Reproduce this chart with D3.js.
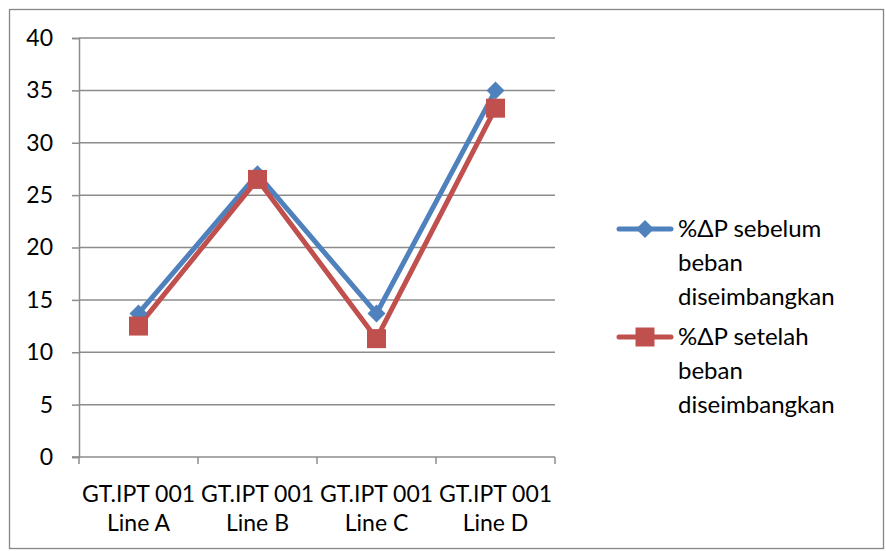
<!DOCTYPE html>
<html>
<head>
<meta charset="utf-8">
<script src="https://cdn.jsdelivr.net/npm/d3@7"></script>
<style>
  html, body { margin: 0; padding: 0; background: #fff; }
  svg { display: block; font-family: Lato, "Open Sans", sans-serif; }
</style>
</head>
<body>
<svg id="chart" width="886" height="551"></svg>
<script>
// Feeder labels (two lines each) and % power loss before/after load balancing
const categories = ["GT.IPT 001|Line A", "GT.IPT 001|Line B", "GT.IPT 001|Line C", "GT.IPT 001|Line D"];
const sebelum = [13.7, 27.0, 13.7, 35.0];
const setelah = [12.5, 26.5, 11.3, 33.3];
const yTicks = [0, 5, 10, 15, 20, 25, 30, 35, 40];
const seriesLegendLines = [["%ΔP sebelum", "beban", "diseimbangkan"], ["%ΔP setelah", "beban", "diseimbangkan"]];
const colors = ["#4F81BD", "#C0504D"];

const FONT = "Lato, 'Open Sans', sans-serif";
const FS = 23;
const FS_LEGEND = 24;

const svg = d3.select("#chart");

// outer frame
svg.append("rect").attr("x", 9.5).attr("y", 9.5).attr("width", 874).attr("height", 539)
  .attr("fill", "#fff").attr("stroke", "#868686").attr("stroke-width", 1.3);

const plot = { left: 79, right: 555, top: 38, bottom: 457 };

const x = d3.scaleBand().domain(categories).range([plot.left, plot.right]);
const y = d3.scaleLinear().domain([0, 40]).range([plot.bottom, plot.top]);

// horizontal gridlines
svg.append("g").selectAll("line").data(yTicks.filter(d => d > 0)).join("line")
  .attr("x1", plot.left).attr("x2", plot.right)
  .attr("y1", d => y(d)).attr("y2", d => y(d))
  .attr("stroke", "#8c8c8c").attr("stroke-width", 1.5);

// y axis
const yAxis = svg.append("g").attr("transform", `translate(${plot.left},0)`)
  .call(d3.axisLeft(y).tickValues(yTicks).tickSize(7).tickPadding(19));
yAxis.select(".domain").attr("stroke", "#8c8c8c").attr("stroke-width", 1.5);
yAxis.selectAll(".tick line").attr("stroke", "#8c8c8c").attr("stroke-width", 1.5);
yAxis.selectAll(".tick text").attr("font-size", FS).attr("fill", "#000")
  .attr("font-family", FONT);

// x axis with ticks at band boundaries
const xAxisG = svg.append("g").attr("transform", `translate(0,${plot.bottom})`);
xAxisG.append("line").attr("x1", plot.left - 7).attr("x2", plot.right)
  .attr("stroke", "#8c8c8c").attr("stroke-width", 1.5);
const boundaries = categories.map(c => x(c)).concat([plot.right]);
xAxisG.selectAll("line.tk").data(boundaries).join("line").attr("class", "tk")
  .attr("x1", d => d).attr("x2", d => d).attr("y1", 0).attr("y2", 7)
  .attr("stroke", "#8c8c8c").attr("stroke-width", 1.5);
xAxisG.selectAll("text").data(categories).join("text")
  .attr("text-anchor", "middle").attr("font-size", FS).attr("fill", "#000")
  .attr("font-family", FONT)
  .each(function(d) {
    const parts = d.split("|");
    d3.select(this).selectAll("tspan").data(parts).join("tspan")
      .attr("x", x(d) + x.bandwidth() / 2)
      .attr("y", (p, i) => 45 + i * 29)
      .text(p => p);
  });

const cx = c => x(c) + x.bandwidth() / 2;
const line = d3.line().x(d => cx(d.c)).y(d => y(d.v));

const allSeries = [sebelum, setelah].map(vals => categories.map((c, i) => ({ c, v: vals[i] })));

allSeries.forEach((pts, si) => {
  svg.append("path").datum(pts).attr("d", line)
    .attr("fill", "none").attr("stroke", colors[si]).attr("stroke-width", 5)
    .attr("stroke-linejoin", "round").attr("stroke-linecap", "round");
});

// markers: diamonds for the first series, squares for the second
function drawMarker(g, si, px, py) {
  if (si === 0) {
    const r = 9;
    g.append("path").attr("d", `M${px},${py - r}L${px + r},${py}L${px},${py + r}L${px - r},${py}Z`)
      .attr("fill", colors[0]);
  } else {
    const s = 19;
    g.append("rect").attr("x", px - s / 2).attr("y", py - s / 2).attr("width", s).attr("height", s)
      .attr("fill", colors[1]);
  }
}
allSeries.forEach((pts, si) => {
  const g = svg.append("g");
  pts.forEach(d => drawMarker(g, si, cx(d.c), y(d.v)));
});

// legend
const legend = svg.append("g");
seriesLegendLines.forEach((lines, si) => {
  const top = 229 + si * 108;
  legend.append("line").attr("x1", 619).attr("x2", 671).attr("y1", top).attr("y2", top)
    .attr("stroke", colors[si]).attr("stroke-width", 5).attr("stroke-linecap", "round");
  drawMarker(legend, si, 645, top);
  const t = legend.append("text").attr("font-size", FS_LEGEND).attr("fill", "#000").attr("font-family", FONT);
  lines.forEach((l, i) => {
    t.append("tspan").attr("x", 678).attr("y", top + 8 + i * 34).text(l);
  });
});
</script>
</body>
</html>
